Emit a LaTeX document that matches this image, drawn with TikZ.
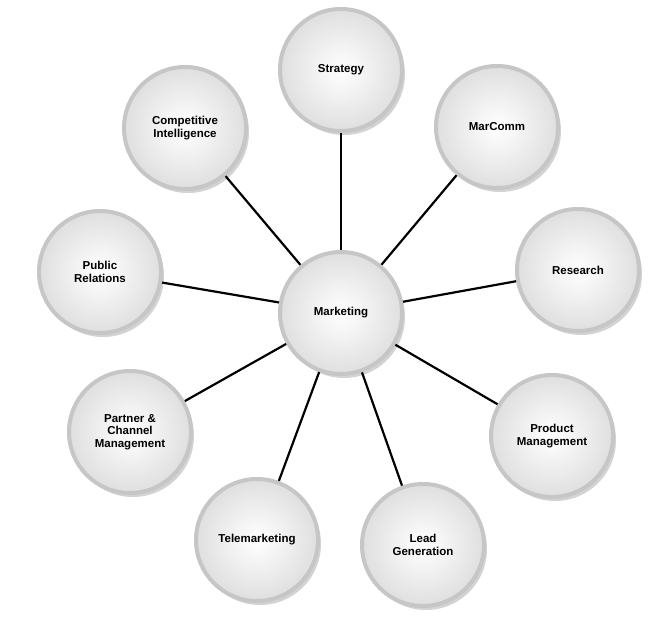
\documentclass[tikz,border=0pt]{standalone}
\usepackage{fontspec}
\setmainfont{Liberation Sans}
\usetikzlibrary{shadows}
\begin{document}
\begin{tikzpicture}[x=1pt,y=-1pt,
  bub/.style={circle,minimum size=122pt,inner sep=0pt,align=center,
    draw=gray!45,line width=4pt,
    inner color=white,outer color=gray!25,
    drop shadow={shadow xshift=3pt,shadow yshift=-4pt,opacity=0.35},
    font=\fontsize{11.5}{12.5}\selectfont\bfseries},
  link/.style={line width=2.2pt,black}]
\useasboundingbox (0,0) rectangle (658,617);
\node[bub] (m) at (341,313) {Marketing};
\node[bub] (s) at (341,70) {Strategy};
\node[bub] (mc) at (497,127) {MarComm};
\node[bub] (r) at (578,270) {Research};
\node[bub] (pm) at (552,436) {Product\\Management};
\node[bub] (lg) at (423,545) {Lead\\Generation};
\node[bub] (t) at (257,540) {Telemarketing};
\node[bub] (pc) at (130,432) {Partner \&\\Channel\\Management};
\node[bub] (pr) at (100,272) {Public\\Relations};
\node[bub] (ci) at (185,128) {Competitive\\Intelligence};
\foreach \n in {s,mc,r,pm,lg,t,pc,pr,ci}
  \draw[link] (m) -- (\n);
\end{tikzpicture}
\end{document}
